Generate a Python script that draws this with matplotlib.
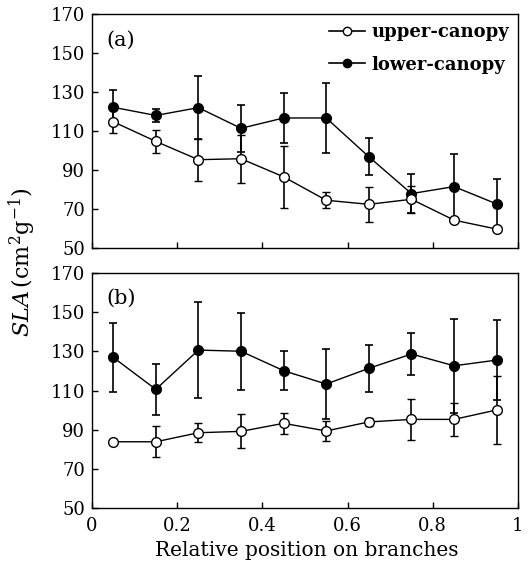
import matplotlib.pyplot as plt
from matplotlib.lines import Line2D

plt.rcParams['font.family'] = ['DejaVu Serif']
plt.rcParams['mathtext.fontset'] = 'dejavuserif'

x_pos = [0.05, 0.15, 0.25, 0.35, 0.45, 0.55, 0.65, 0.75, 0.85, 0.95]

# panel (a)
a_upper = [114.8, 104.7, 95.3, 95.8, 86.5, 74.5, 72.4, 75.0, 64.3, 59.7]
a_upper_err = [6.0, 6.0, 10.8, 12.4, 16.0, 4.0, 9.0, 7.0, 0.0, 0.0]
a_lower = [122.2, 118.0, 122.0, 111.4, 116.7, 116.7, 96.8, 77.9, 81.5, 72.6]
a_lower_err = [9.0, 3.5, 16.0, 12.0, 12.7, 18.0, 9.5, 10.0, 16.5, 13.0]

# panel (b)
b_upper = [83.9, 83.9, 88.5, 89.2, 93.3, 89.4, 94.0, 95.3, 95.3, 100.1]
b_upper_err = [0.0, 8.0, 4.8, 8.7, 5.4, 5.3, 2.0, 10.5, 8.3, 17.4]
b_lower = [126.9, 110.6, 130.6, 130.0, 120.1, 113.3, 121.3, 128.6, 122.6, 125.5]
b_lower_err = [17.4, 13.0, 24.5, 19.7, 10.0, 18.0, 12.0, 10.6, 24.0, 20.4]

y_ticks = [50, 70, 90, 110, 130, 150, 170]
x_ticks = [0, 0.2, 0.4, 0.6, 0.8, 1]
x_labels = ['0', '0.2', '0.4', '0.6', '0.8', '1']

fig = plt.figure(figsize=(5.28, 5.63), dpi=100)
ax_a = fig.add_axes([0.174, 0.5595, 0.807, 0.4155])
ax_b = fig.add_axes([0.174, 0.0971, 0.807, 0.4185])


def draw_panel(ax, upper, upper_err, lower, lower_err, tag, show_x):
    ax.errorbar(x_pos, lower, yerr=lower_err, color='black', lw=1.0,
                marker='o', ms=7, mfc='black', mec='black', capsize=3,
                elinewidth=1.2, capthick=1.2, zorder=3)
    ax.errorbar(x_pos, upper, yerr=upper_err, color='black', lw=1.0,
                marker='o', ms=7, mfc='white', mec='black', mew=1.0, capsize=3,
                elinewidth=1.2, capthick=1.2, zorder=4)
    ax.set_xlim(0, 1)
    ax.set_ylim(50, 170)
    ax.set_yticks(y_ticks)
    ax.set_xticks(x_ticks)
    if show_x:
        ax.set_xticklabels(x_labels)
    else:
        ax.set_xticklabels([])
    ax.tick_params(direction='in', labelsize=13, length=4, width=1.0, pad=5)
    ax.tick_params(axis='x', pad=6)
    for s in ax.spines.values():
        s.set_linewidth(1.0)
    ax.text(0.035, 0.93, tag, transform=ax.transAxes, fontsize=15,
            va='top', ha='left')


draw_panel(ax_a, a_upper, a_upper_err, a_lower, a_lower_err, '(a)', False)
draw_panel(ax_b, b_upper, b_upper_err, b_lower, b_lower_err, '(b)', True)

handles = [
    Line2D([], [], color='black', lw=1.2, marker='o', ms=6, mfc='white', mec='black'),
    Line2D([], [], color='black', lw=1.2, marker='o', ms=6, mfc='black', mec='black'),
]
ax_a.legend(handles, ['upper-canopy', 'lower-canopy'], loc='upper right',
            frameon=False, handlelength=2.0, handletextpad=0.35,
            borderaxespad=0.2, borderpad=0.3, labelspacing=0.8,
            prop={'family': 'DejaVu Serif', 'weight': 'bold', 'size': 13})

fig.text(0.042, 0.535, r'$\mathit{SLA}\,$(cm$^2$g$^{\mathregular{-1}}$)', rotation=90,
         ha='center', va='center', fontsize=16)
fig.text(0.581, 0.023, 'Relative position on branches', ha='center',
         va='center', fontsize=14.5)

fig.savefig('out.png', dpi=100)
